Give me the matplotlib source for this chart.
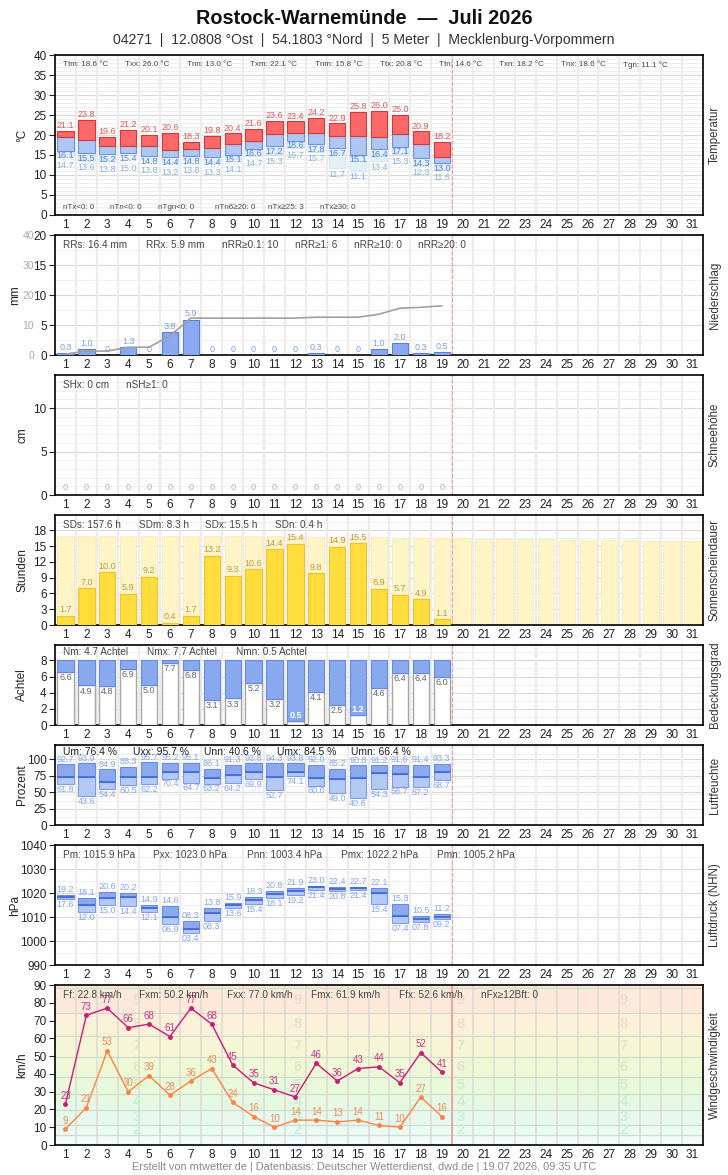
import numpy as np
import matplotlib
matplotlib.use('Agg')
import matplotlib.pyplot as plt

plt.rcParams['font.family'] = ['Liberation Sans', 'DejaVu Sans']

# Tageswerte Juli 2026 (Tag 1-19)
days = np.arange(1, 20)
tmax = [21.1, 23.8, 19.6, 21.2, 20.1, 20.6, 18.3, 19.8, 20.4, 21.6, 23.6, 23.4, 24.2, 22.9, 25.8, 26.0, 25.0, 20.9, 18.2]
tmean = [19.4, 18.8, 17.2, 17.2, 17.2, 16.3, 16.6, 16.8, 17.7, 18.6, 20.3, 20.6, 20.6, 19.8, 19.8, 19.6, 20.3, 17.8, 14.6]
tmin = [16.1, 15.5, 15.2, 15.4, 14.8, 14.4, 14.8, 14.4, 15.1, 16.6, 17.2, 18.6, 17.8, 16.7, 15.1, 16.4, 17.1, 14.3, 13.0]
tgn = [14.7, 13.6, 13.8, 15.0, 13.8, 13.2, 13.8, 13.3, 14.1, 14.7, 15.3, 16.7, 15.7, 11.7, 11.1, 13.4, 15.3, 12.3, 11.6]

rr = [0.3, 1.0, 0, 1.3, 0, 3.8, 5.9, 0, 0, 0, 0, 0, 0.3, 0, 0, 1.0, 2.0, 0.3, 0.5]
snow = [0] * 19

sd = [1.7, 7.0, 10.0, 5.9, 9.2, 0.4, 1.7, 13.2, 9.3, 10.6, 14.4, 15.4, 9.8, 14.9, 15.5, 6.9, 5.7, 4.9, 1.1]
all_days = np.arange(1, 32)
sd_possible = [17.0, 17.0, 17.0, 17.0, 17.0, 17.0, 17.0, 16.9, 16.9, 16.9, 16.9, 16.9, 16.8, 16.8, 16.8, 16.8,
               16.6, 16.6, 16.6, 16.5, 16.3, 16.3, 16.3, 16.3, 16.1, 16.1, 16.1, 16.1, 15.9, 15.9, 15.9]

cloud = [6.6, 4.9, 4.8, 6.9, 5.0, 7.7, 6.8, 3.1, 3.3, 5.2, 3.2, 0.5, 4.1, 2.5, 1.2, 4.6, 6.4, 6.4, 6.0]

rh_max = [92.7, 93.9, 84.9, 88.3, 95.7, 95.2, 95.1, 86.1, 91.3, 93.8, 94.3, 93.8, 92.0, 85.2, 90.8, 91.2, 91.6, 91.4, 93.3]
rh_mean = [72.8, 72.8, 65.1, 72.8, 72.8, 81.5, 81.5, 71.3, 76.4, 80.5, 72.8, 81.5, 71.3, 69.7, 71.3, 80.0, 77.4, 72.8, 80.5]
rh_min = [61.8, 43.6, 54.4, 60.5, 62.2, 70.4, 64.7, 63.2, 64.2, 69.9, 52.7, 74.1, 60.0, 49.0, 40.6, 54.3, 58.7, 57.2, 68.7]

p_max = [1019.2, 1018.1, 1020.6, 1020.2, 1014.9, 1014.6, 1008.3, 1013.8, 1015.9, 1018.3, 1020.8, 1021.9, 1023.0,
         1022.4, 1022.7, 1022.1, 1015.3, 1010.5, 1011.2]
p_mean = [1018.4, 1015.0, 1018.1, 1018.3, 1013.8, 1009.9, 1005.0, 1011.7, 1015.0, 1017.1, 1019.7, 1021.0, 1022.3,
          1021.5, 1022.0, 1019.8, 1010.4, 1009.2, 1010.2]
p_min = [1017.6, 1012.0, 1015.0, 1014.4, 1012.1, 1006.9, 1003.4, 1008.3, 1013.6, 1015.4, 1018.1, 1019.2, 1021.4,
         1020.8, 1021.4, 1015.4, 1007.4, 1007.8, 1009.2]

fx = [23, 73, 77, 66, 68, 61, 77, 68, 45, 35, 31, 27, 46, 36, 43, 44, 35, 52, 41]
fm = [9, 21, 53, 30, 39, 28, 36, 43, 24, 16, 10, 14, 14, 13, 14, 11, 10, 27, 16]

# Beaufort-Grenzen (km/h) und Farben
bft_edges = [0, 5.5, 11.5, 19.5, 28.5, 38.5, 49.5, 61.5, 74.5, 88.5, 90]
bft_colors = ['#f0fcfc', '#eafaf5', '#e6f8ee', '#e4f8e2', '#e8f8da', '#eef8d6', '#f6f6d6', '#fbf0d8', '#fde9da', '#fde7da']
bft_num_colors = {2: '#c8eedf', 3: '#c8eed8', 4: '#cceecc', 5: '#d4eac4', 6: '#dce8c2', 7: '#e2e6c4', 8: '#eae2c8', 9: '#eedacb'}

W, H = 728, 1175
fig = plt.figure(figsize=(W / 100, H / 100), dpi=100)

fig.text(0.5, 1 - 18 / H, 'Rostock-Warnemünde  —  Juli 2026', ha='center', va='center',
         fontsize=14.3, fontweight='bold', color='#111')
fig.text(0.5, 1 - 40 / H, '04271  |  12.0808 °Ost  |  54.1803 °Nord  |  5 Meter  |  Mecklenburg-Vorpommern',
         ha='center', va='center', fontsize=10.1, color='#333')
fig.text(0.5, 1 - 1167 / H, 'Erstellt von mtwetter.de | Datenbasis: Deutscher Wetterdienst, dwd.de | 19.07.2026, 09:35 UTC',
         ha='center', va='center', fontsize=7.9, color='#888')


def panel(top, bottom, ylim, yticks, ylabel, rlabel, minor=(), ylabel_x=22):
    ax = fig.add_axes([55 / W, 1 - bottom / H, 648 / W, (bottom - top) / H])
    ax.set_xlim(0.5, 31.5)
    ax.set_ylim(ylim)
    ax.set_xticks(range(1, 32))
    ax.set_yticks(yticks)
    ax.tick_params(axis='x', length=0, labelsize=8.5, pad=3, colors='#222')
    ax.tick_params(axis='y', length=4, labelsize=8.5, pad=2, colors='#222')
    for y in minor:
        ax.axhline(y, color='#efefef', lw=0.8, zorder=0)
    for y in yticks:
        ax.axhline(y, color='#d8d8d8', lw=0.8, zorder=0)
    for x in np.arange(1.5, 31, 1):
        ax.axvline(x, color='#ececec', lw=1.6, zorder=0)
    ax.axvline(19.5, color='#f2a0a0', ls='--', lw=0.8, zorder=1)
    for s in ax.spines.values():
        s.set_linewidth(1.2)
    fig.text(ylabel_x / W, 1 - (top + bottom) / 2 / H, ylabel, rotation=90, ha='center', va='center',
             fontsize=8.5, color='#222')
    fig.text(715 / W, 1 - (top + bottom) / 2 / H, rlabel, rotation=90, ha='center', va='center',
             fontsize=8.3, color='#333')
    return ax


def stats(items, xs, y, size=7.2, color='#444'):
    for s, x in zip(items, xs):
        fig.text(x / W, 1 - y / H, s, ha='left', va='center', fontsize=size, color=color)


bw = 0.78

# Temperatur
ax = panel(55, 215, (0, 40), range(0, 41, 5), '°C', 'Temperatur', minor=range(0, 41))
tmin_a, tgn_a, tmean_a, tmax_a = map(np.array, (tmin, tgn, tmean, tmax))
ax.bar(days, tmin_a - tgn_a, bottom=tgn_a, width=bw, color='#e2f0fa', edgecolor='#cfe3f3', lw=0.6, zorder=2)
ax.bar(days, tmean_a - tmin_a, bottom=tmin_a, width=bw, color='#aec6f2', edgecolor='#6e92dc', lw=0.8, zorder=3)
ax.bar(days, tmax_a - tmean_a, bottom=tmean_a, width=bw, color='#ff6868', edgecolor='#cc3a3a', lw=0.8, zorder=3)
for d, hi, lo, g in zip(days, tmax, tmin, tgn):
    ax.text(d, hi + 0.2, f'{hi:.1f}', ha='center', va='bottom', fontsize=6.5, color='#e05a5a', zorder=5)
    ax.text(d, lo - 0.2, f'{lo:.1f}', ha='center', va='top', fontsize=6.5, color='#4f80d8', zorder=5)
    ax.text(d, min(g - 0.4, lo - 2.6), f'{g:.1f}', ha='center', va='top', fontsize=6.5, color='#86b4dc', zorder=5)
stats(['Ttm: 18.6 °C', 'Txx: 26.0 °C', 'Tnn: 13.0 °C', 'Txm: 22.1 °C', 'Tnm: 15.8 °C', 'Ttx: 20.8 °C',
       'Ttn: 14.6 °C', 'Txn: 18.2 °C', 'Tnx: 18.6 °C', 'Tgn: 11.1 °C'],
      [63, 125, 187, 250, 315, 380, 439, 499, 561, 623], 65, size=5.8)
stats(['nTx<0: 0', 'nTn<0: 0', 'nTgn<0: 0', 'nTn6≥20: 0', 'nTx≥25: 3', 'nTx≥30: 0'],
      [63, 110, 158, 215, 268, 320], 208, size=5.8)

# Niederschlag
ax = panel(235, 355, (0, 20), range(0, 21, 5), 'mm', 'Niederschlag', minor=np.arange(0, 20, 2.5), ylabel_x=15)
ax.bar(days, rr, width=bw, color='#89a9ee', edgecolor='#5b7fe0', lw=0.8, zorder=3)
for d, v in zip(days, rr):
    ax.text(d, v + 0.2, '0' if v == 0 else f'{v:.1f}', ha='center', va='bottom', fontsize=6.5, color='#7c9cee', zorder=5)
ax2 = ax.twinx()
ax2.set_ylim(0, 40)
ax2.set_yticks(range(0, 41, 10))
ax2.yaxis.set_ticks_position('left')
ax2.tick_params(axis='y', length=0, labelsize=7.5, colors='#aaa', pad=15)
for s in ax2.spines.values():
    s.set_visible(False)
ax2.plot(days, np.cumsum(rr), color='#a0a0a0', lw=1.2, zorder=4)
stats(['RRs: 16.4 mm', 'RRx: 5.9 mm', 'nRR≥0.1: 10', 'nRR≥1: 6', 'nRR≥10: 0', 'nRR≥20: 0'],
      [63, 146, 222, 295, 354, 418], 245)

# Schneehoehe
ax = panel(375, 495, (0, 13.8), [0, 5, 10], 'cm', 'Schneehöhe', minor=range(0, 14))
for d, v in zip(days, snow):
    ax.text(d, v + 0.4, '0', ha='center', va='bottom', fontsize=6.5, color='#b0b0b0')
stats(['SHx: 0 cm', 'nSH≥1: 0'], [63, 126], 385)

# Sonnenscheindauer
ax = panel(515, 625, (0, 20.9), range(0, 19, 3), 'Stunden', 'Sonnenscheindauer', minor=np.arange(0, 21, 1.5))
ax.bar(all_days, sd_possible, width=bw, color='#fff4c6', edgecolor='#fbeab0', lw=0.6, zorder=2)
ax.bar(days, sd, width=bw, color='#ffdd3c', edgecolor='#f2c420', lw=0.8, zorder=3)
for d, v in zip(days, sd):
    ax.text(d, v + 0.3, f'{v:.1f}', ha='center', va='bottom', fontsize=6.5, color='#b8994a', zorder=5)
stats(['SDs: 157.6 h', 'SDm: 8.3 h', 'SDx: 15.5 h', 'SDn: 0.4 h'], [63, 139, 205, 275], 525)

# Bedeckungsgrad
ax = panel(645, 725, (0, 9.9), range(0, 9, 2), 'Achtel', 'Bedeckungsgrad', minor=range(0, 10))
cl = np.array(cloud)
ax.bar(days, cl, width=bw, color='white', edgecolor='#a8a8a8', lw=1.0, zorder=3)
ax.bar(days, 8 - cl, bottom=cl, width=bw, color='#89a9ee', edgecolor='#6688e0', lw=0.8, zorder=3)
for d, v in zip(days, cloud):
    if v < 2:
        ax.text(d, v + 0.1, f'{v:.1f}', ha='center', va='bottom', fontsize=6.5, color='white',
                fontweight='bold', zorder=5)
    else:
        ax.text(d, v - 0.15, f'{v:.1f}', ha='center', va='top', fontsize=6.5, color='#666', zorder=5)
stats(['Nm: 4.7 Achtel', 'Nmx: 7.7 Achtel', 'Nmn: 0.5 Achtel'], [63, 147, 236], 652)

# Luftfeuchte
ax = panel(745, 825, (0, 122), range(0, 101, 25), 'Prozent', 'Luftfeuchte', minor=range(0, 121, 12))
hi, mi, lo = map(np.array, (rh_max, rh_mean, rh_min))
ax.bar(days, mi - lo, bottom=lo, width=bw, color='#b4caf4', edgecolor='#7e9ce8', lw=0.8, zorder=3)
ax.bar(days, hi - mi, bottom=mi, width=bw, color='#8aa9ee', edgecolor='#6a8ce4', lw=0.8, zorder=3)
ax.hlines(mi, days - bw / 2, days + bw / 2, color='#3f68d0', lw=1.2, zorder=4)
for d, a, b in zip(days, rh_max, rh_min):
    ax.text(d, a + 1, f'{a:.1f}', ha='center', va='bottom', fontsize=6.5, color='#86a6ee', zorder=5)
    ax.text(d, b - 1, f'{b:.1f}', ha='center', va='top', fontsize=6.5, color='#86a6ee', zorder=5)
stats(['Um: 76.4 %', 'Uxx: 95.7 %', 'Unn: 40.6 %', 'Umx: 84.5 %', 'Umn: 66.4 %'],
      [63, 133, 204, 277, 351], 752, size=7.5, color='#222')

# Luftdruck
ax = panel(845, 965, (990, 1040), range(990, 1041, 10), 'hPa', 'Luftdruck (NHN)', minor=range(990, 1041, 5),
           ylabel_x=15)
hi, mi, lo = map(np.array, (p_max, p_mean, p_min))
ax.bar(days, mi - lo, bottom=lo, width=bw, color='#b4caf4', edgecolor='#7e9ce8', lw=0.8, zorder=3)
ax.bar(days, hi - mi, bottom=mi, width=bw, color='#8aa9ee', edgecolor='#6a8ce4', lw=0.8, zorder=3)
ax.hlines(mi, days - bw / 2, days + bw / 2, color='#3f68d0', lw=1.2, zorder=4)
for d, a, b in zip(days, p_max, p_min):
    ax.text(d, a + 0.4, f'{a - 1000:04.1f}', ha='center', va='bottom', fontsize=6.5, color='#86a6ee', zorder=5)
    ax.text(d, b - 0.4, f'{b - 1000:04.1f}', ha='center', va='top', fontsize=6.5, color='#86a6ee', zorder=5)
stats(['Pm: 1015.9 hPa', 'Pxx: 1023.0 hPa', 'Pnn: 1003.4 hPa', 'Pmx: 1022.2 hPa', 'Pmn: 1005.2 hPa'],
      [63, 153, 247, 341, 437], 855)

# Windgeschwindigkeit
ax = panel(985, 1145, (0, 90), range(0, 91, 10), 'km/h', 'Windgeschwindigkeit')
for i in range(len(bft_edges) - 1):
    ax.axhspan(bft_edges[i], bft_edges[i + 1], color=bft_colors[i], zorder=0.5, lw=0)
for y in bft_edges[1:-1]:
    ax.axhline(y, color='#cfdccb', lw=0.9, zorder=0.6)
for x in np.arange(1.5, 31, 1):
    ax.axvline(x, color='#d8d8d0', lw=1.4, alpha=0.7, zorder=0.7)
ax.axvline(19.5, color='#f0a0a0', lw=1.2, zorder=1)
for b in range(2, 10):
    yc = (bft_edges[b - 1] + bft_edges[b]) / 2
    for xp in [4.4, 12.1, 19.9, 27.7]:
        ax.text(xp, yc, str(b), ha='center', va='center', fontsize=10.5, fontweight='bold',
                color=bft_num_colors[b], zorder=0.8)
ax.plot(days, fx, color='#cc1a78', lw=1.0, marker='o', ms=2.5, zorder=4)
ax.plot(days, fm, color='#ff8444', lw=1.0, marker='o', ms=2.5, zorder=4)
for d, a, b in zip(days, fx, fm):
    ax.annotate(str(a), (d, a), xytext=(0, 2.5), textcoords='offset points', ha='center', va='bottom',
                fontsize=7, color='#cc3386', zorder=5)
    ax.annotate(str(b), (d, b), xytext=(0, 2.5), textcoords='offset points', ha='center', va='bottom',
                fontsize=7, color='#f28a56', zorder=5)
stats(['Ff: 22.8 km/h', 'Fxm: 50.2 km/h', 'Fxx: 77.0 km/h', 'Fmx: 61.9 km/h', 'Ffx: 52.6 km/h', 'nFx≥12Bft: 0'],
      [63, 139, 227, 311, 399, 481], 995)

fig.savefig('out.png', dpi=100)
